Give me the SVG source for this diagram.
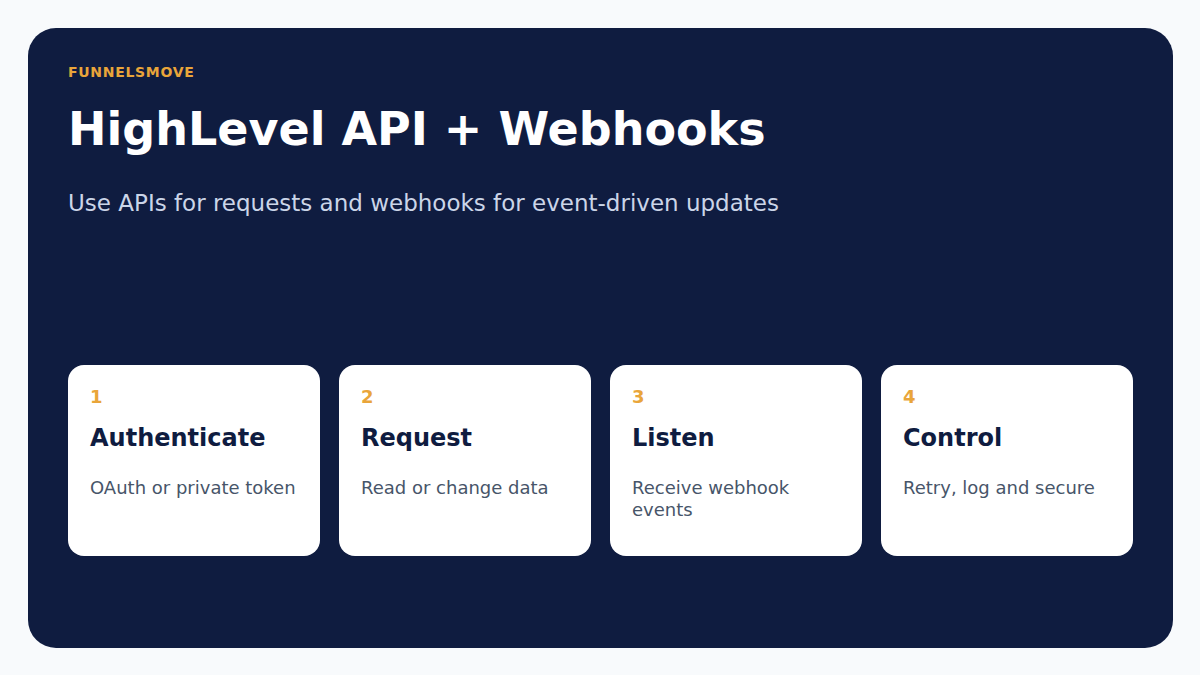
<svg xmlns="http://www.w3.org/2000/svg" width="1200" height="675" viewBox="0 0 1200 675">
<style>
.card{fill:#ffffff}
.num{font-family:"DejaVu Sans",sans-serif;font-weight:bold;font-size:18px;fill:#e9a53a}
.head{font-family:"DejaVu Sans",sans-serif;font-weight:bold;font-size:24px;fill:#0f1c40}
.body{font-family:"DejaVu Sans",sans-serif;font-size:18px;fill:#475569}
</style>
<rect width="1200" height="675" fill="#f8fafc"/>
<rect x="28" y="28" width="1145" height="620" rx="28" fill="#0f1c40"/>
<text x="68" y="77" font-family="DejaVu Sans, sans-serif" font-weight="bold" font-size="14" fill="#e9a53a" letter-spacing="0.7">FUNNELSMOVE</text>
<text x="68" y="145" font-family="DejaVu Sans, sans-serif" font-weight="bold" font-size="46" fill="#ffffff">HighLevel API + Webhooks</text>
<text x="68" y="211" font-family="DejaVu Sans, sans-serif" font-size="23" fill="#cbd5e8">Use APIs for requests and webhooks for event-driven updates</text>
<g id="node1">
<rect class="card" x="68" y="365" width="252" height="191" rx="16"/>
<text class="num" x="90" y="403">1</text>
<text class="head" x="90" y="446">Authenticate</text>
<text class="body" x="90" y="494">OAuth or private token</text>
</g>
<g id="node2">
<rect class="card" x="339" y="365" width="252" height="191" rx="16"/>
<text class="num" x="361" y="403">2</text>
<text class="head" x="361" y="446">Request</text>
<text class="body" x="361" y="494">Read or change data</text>
</g>
<g id="node3">
<rect class="card" x="610" y="365" width="252" height="191" rx="16"/>
<text class="num" x="632" y="403">3</text>
<text class="head" x="632" y="446">Listen</text>
<text class="body" x="632" y="494">Receive webhook</text>
<text class="body" x="632" y="516">events</text>
</g>
<g id="node4">
<rect class="card" x="881" y="365" width="252" height="191" rx="16"/>
<text class="num" x="903" y="403">4</text>
<text class="head" x="903" y="446">Control</text>
<text class="body" x="903" y="494">Retry, log and secure</text>
</g>
<g id="connectors"></g>
</svg>
